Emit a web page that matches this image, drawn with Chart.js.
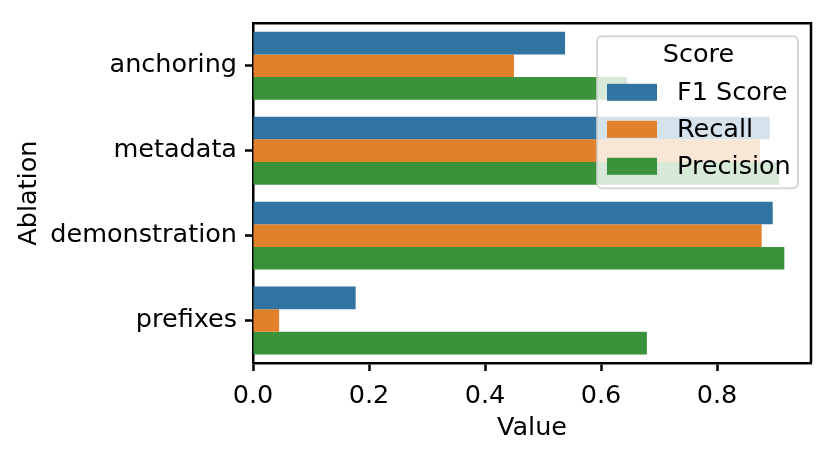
<!DOCTYPE html>
<html>
<head>
<meta charset="utf-8">
<script src="https://cdn.jsdelivr.net/npm/chart.js@4.4.1/dist/chart.umd.min.js"></script>
<style>
  body { margin: 0; background: #fff; }
  #wrap { width: 829px; height: 459px; }
</style>
</head>
<body>
<div id="wrap"><canvas id="chart" width="829" height="459"></canvas></div>
<script>
const ablations = ['anchoring', 'metadata', 'demonstration', 'prefixes'];
const f1Score   = [0.538, 0.891, 0.896, 0.177];
const recall    = [0.450, 0.874, 0.877, 0.045];
const precision = [0.645, 0.907, 0.916, 0.679];
const xTicks = [0.0, 0.2, 0.4, 0.6, 0.8];

const colors = ['#3274a1', '#e1812c', '#3a923a'];
const FONT = 'DejaVu Sans';
const FS = 25.5;

// top/right spines + legend box drawn inside the plot (like seaborn's)
const framePlugin = {
  id: 'frame',
  afterDraw(chart) {
    const { ctx, chartArea: a } = chart;
    ctx.save();
    ctx.strokeStyle = '#000';
    ctx.lineWidth = 2.5;
    ctx.beginPath();
    ctx.moveTo(a.left, a.top);
    ctx.lineTo(a.right, a.top);
    ctx.lineTo(a.right, a.bottom);
    ctx.stroke();

    // legend
    const lx = a.right - 214, ly = a.top + 13, lw = 201, lh = 152;
    ctx.beginPath();
    ctx.roundRect(lx, ly, lw, lh, 5);
    ctx.fillStyle = 'rgba(255,255,255,0.8)';
    ctx.fill();
    ctx.strokeStyle = 'rgba(204,204,204,0.8)';
    ctx.lineWidth = 2;
    ctx.stroke();

    ctx.fillStyle = '#000';
    ctx.font = FS + 'px "' + FONT + '"';
    ctx.textAlign = 'center';
    ctx.textBaseline = 'middle';
    ctx.fillText('Score', lx + lw / 2 + 1, ly + 19);

    ctx.textAlign = 'left';
    chart.data.datasets.forEach((ds, i) => {
      const cy = ly + 56 + i * 37;
      ctx.fillStyle = ds.backgroundColor;
      ctx.fillRect(lx + 10, cy - 8.5, 50, 17);
      ctx.fillStyle = '#000';
      ctx.fillText(ds.label, lx + 80, cy + 1);
    });
    ctx.restore();
  }
};

new Chart(document.getElementById('chart'), {
  type: 'bar',
  data: {
    labels: ablations,
    datasets: [
      { label: 'F1 Score', data: f1Score, backgroundColor: colors[0] },
      { label: 'Recall', data: recall, backgroundColor: colors[1] },
      { label: 'Precision', data: precision, backgroundColor: colors[2] },
    ]
  },
  options: {
    indexAxis: 'y',
    responsive: false,
    animation: false,
    datasets: {
      bar: { categoryPercentage: 0.8, barPercentage: 1.0, borderWidth: 0 }
    },
    layout: { padding: { top: 18, right: 18, left: 0, bottom: 0 } },
    scales: {
      x: {
        min: 0,
        max: 0.962,
        afterFit(scale) { scale.height = 96; },
        afterBuildTicks(scale) { scale.ticks = xTicks.map(v => ({ value: v })); },
        grid: { drawOnChartArea: false, tickLength: 8, tickColor: '#000', tickWidth: 2.5 },
        border: { color: '#000', width: 2.5 },
        ticks: {
          color: '#000',
          padding: 10,
          font: { family: FONT, size: FS },
          callback: v => Number(v).toFixed(1)
        },
        title: {
          display: true, text: 'Value', color: '#000',
          font: { family: FONT, size: FS },
          padding: { top: 0, bottom: 15 }
        }
      },
      y: {
        afterFit(scale) { scale.width = 253; },
        grid: { offset: false, drawOnChartArea: false, tickLength: 8, tickColor: '#000', tickWidth: 2.5 },
        border: { color: '#000', width: 2.5 },
        ticks: {
          color: '#000',
          padding: 8,
          font: { family: FONT, size: FS }
        },
        title: {
          display: true, text: 'Ablation', color: '#000',
          font: { family: FONT, size: FS },
          padding: { top: 14, bottom: 0 }
        }
      }
    },
    plugins: {
      legend: { display: false },
      tooltip: { enabled: false }
    }
  },
  plugins: [framePlugin]
});
</script>
</body>
</html>
